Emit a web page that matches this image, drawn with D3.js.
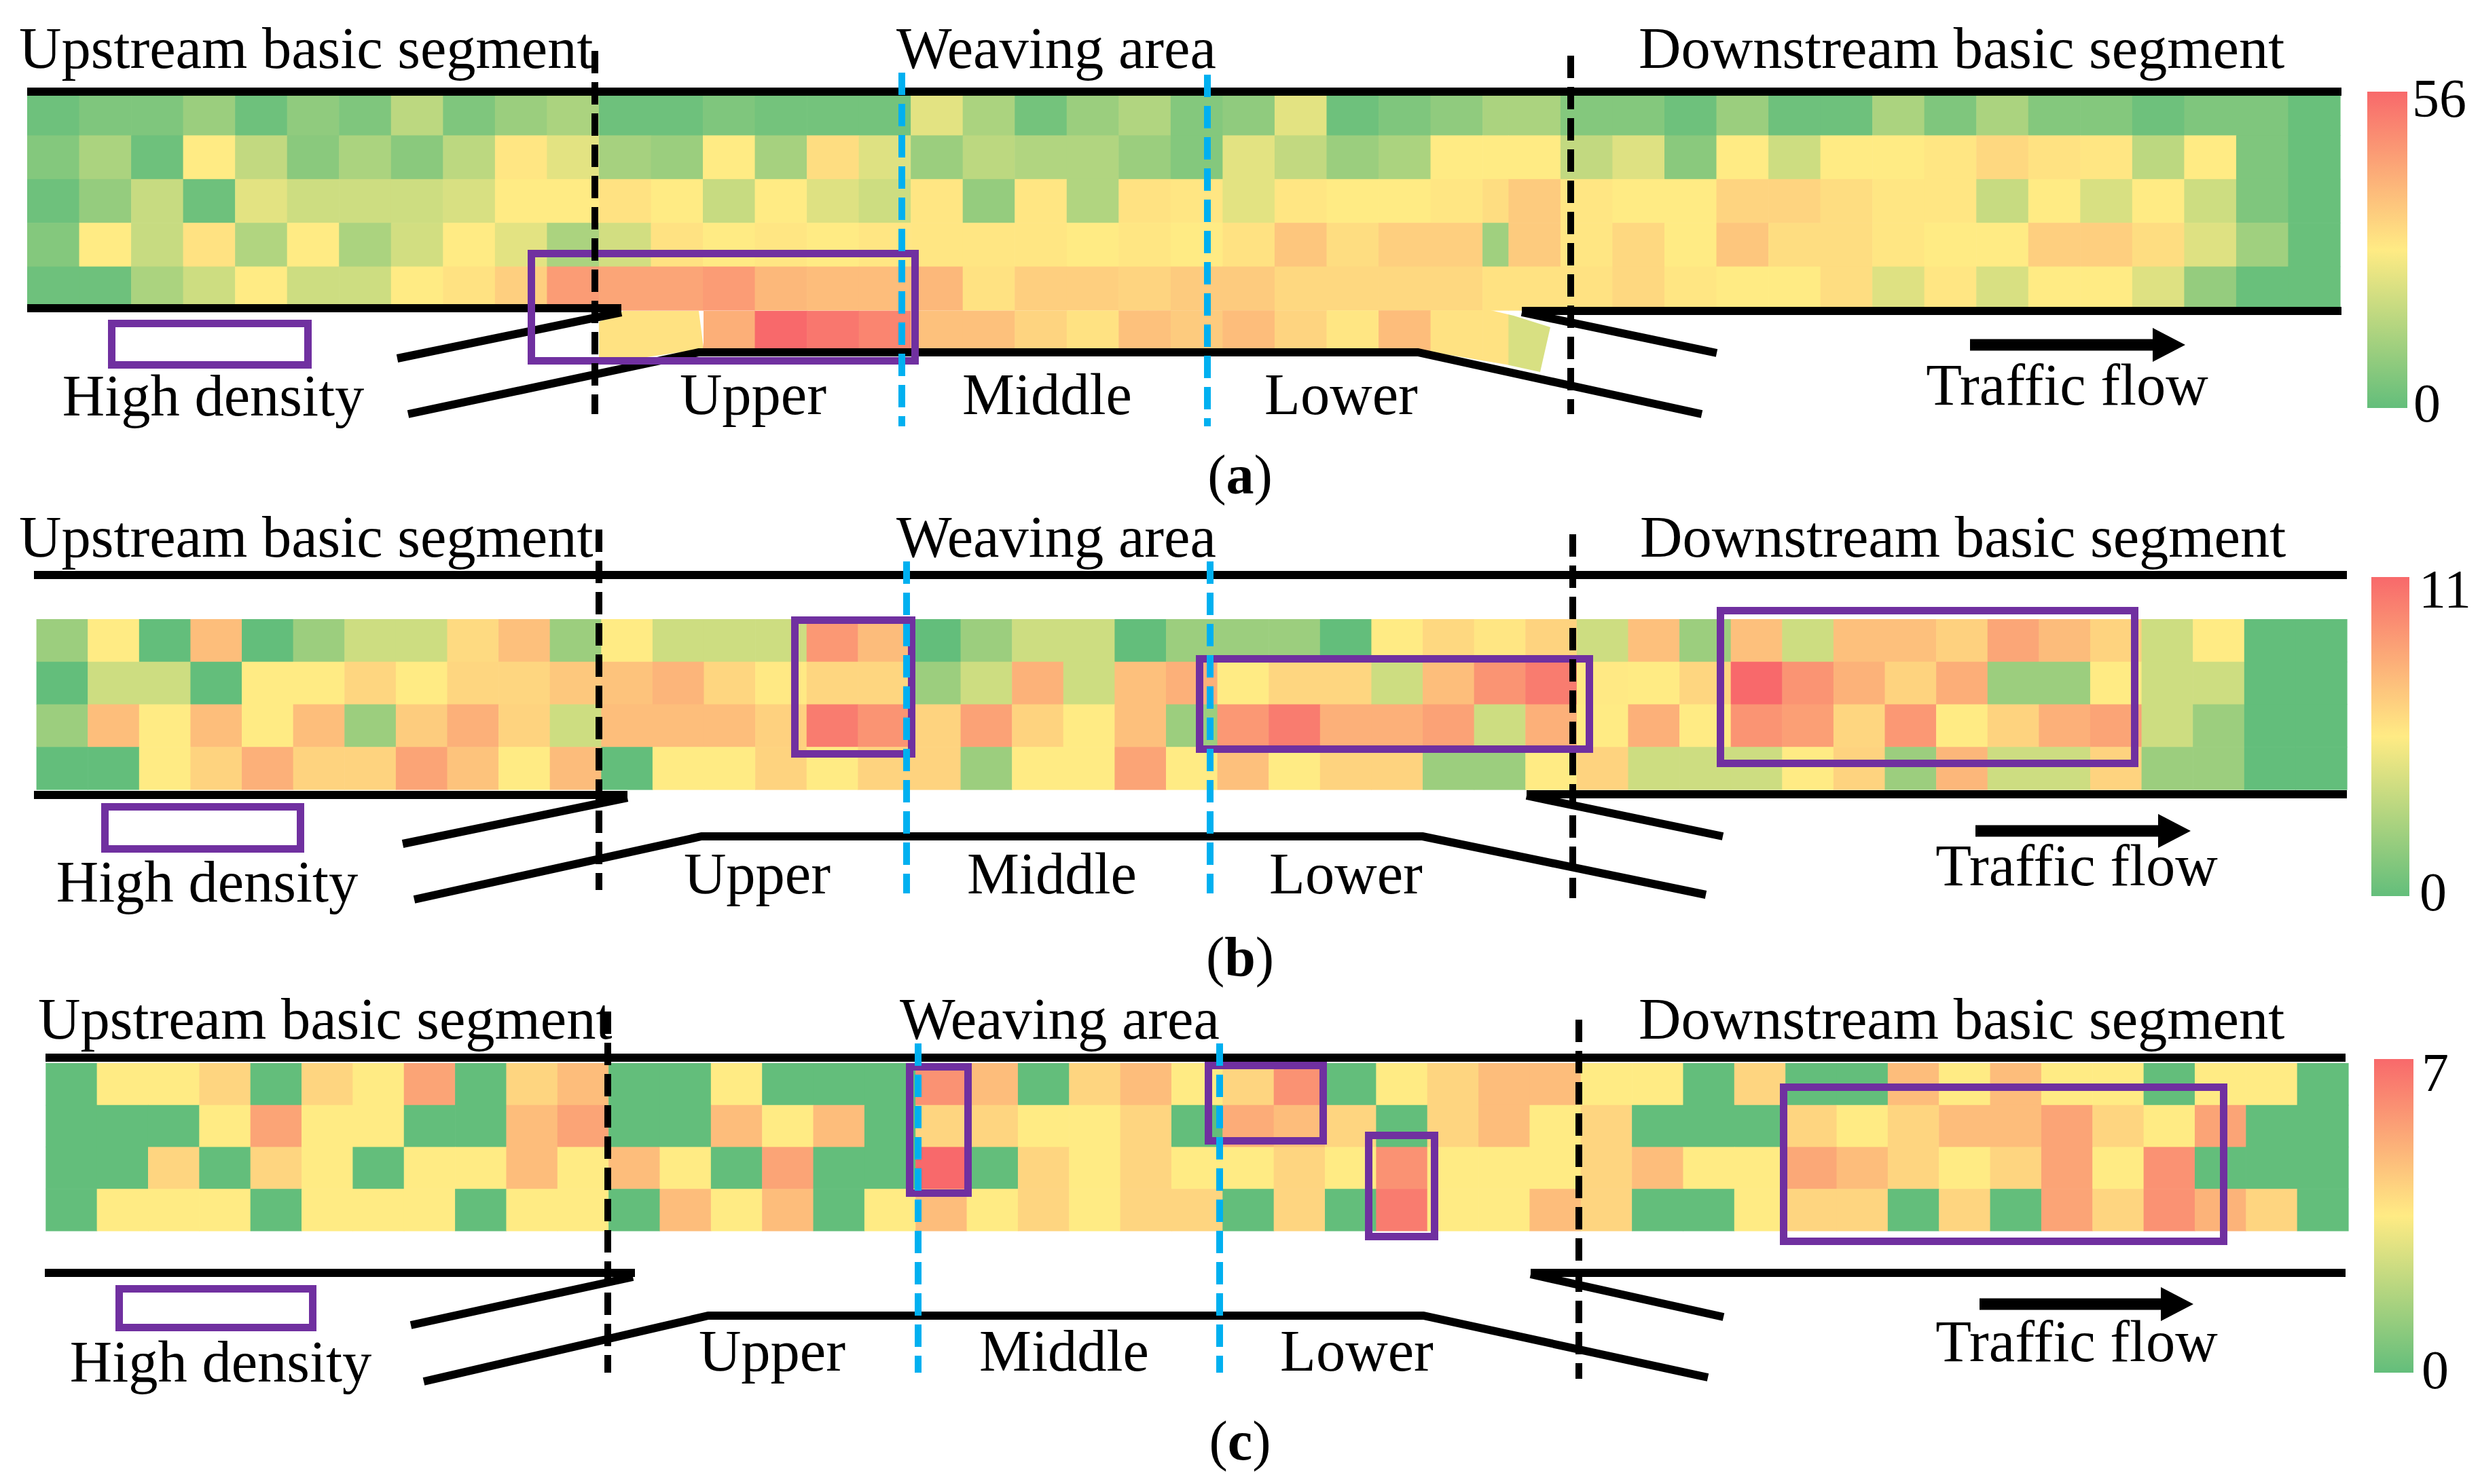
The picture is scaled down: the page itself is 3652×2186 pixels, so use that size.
<!DOCTYPE html>
<html><head><meta charset="utf-8">
<script src="https://cdn.jsdelivr.net/npm/d3@7"></script>
<style>html,body{margin:0;padding:0;background:#fff}svg{display:block}text{font-family:"Liberation Serif",serif;fill:#000}</style>
</head><body><svg id="chart" width="3652" height="2186"></svg>
<script>
// ---------- colour stops and category labels ----------
const colorStops = ['#63BE7B', '#FFEB84', '#F8696B'];
const segmentTitles = ['Upstream basic segment', 'Weaving area', 'Downstream basic segment'];
const zoneLabels = ['Upper', 'Middle', 'Lower'];
const legendLabel = 'High density';
const flowLabel = 'Traffic flow';

// ---------- panel (a): density values, scale 0-56, one list per lane ----------
const maxA = 56;
const a0 = [2,5,5,10,2,8,5,16,5,10,13,2,2,5,3,3,3,23,13,3,10,14,6,8,23,2,5,8,13,13,6,6,2,10,2,2,13,5,13,6,6,2,5,5,1];
const a1 = [6,13,2,28,17,7,13,7,16,29,23,12,10,28,12,31,22,10,16,14,14,10,6,23,17,10,13,28,28,28,17,22,7,28,19,28,28,29,32,30,29,16,28,5,1];
const a2 = [2,9,18,2,23,19,19,19,21,28,28,30,28,18,28,22,19,29,9,29,14,30,29,23,29,28,28,29,31,35,29,28,28,33,33,31,29,29,18,28,21,28,19,5,1];
const a3 = [6,28,18,30,14,28,13,20,28,23,13,20,30,28,29,28,29,29,29,29,28,29,28,30,36,31,34,34,11,35,29,32,28,36,31,31,29,28,28,34,34,31,22,11,1];
const a4 = [2,2,13,19,28,19,19,28,30,34,45,43,43,45,39,38,38,39,30,34,34,33,35,35,32,32,32,32,30,30,30,32,29,28,28,31,22,29,21,28,28,22,9,1,1];
const a5 = [null,null,null,null,null,null,null,null,null,null,null,30,30,41,56,53,50,37,37,33,30,37,35,38,33,29,38,30,30,21,null,null,null,null,null,null,null,null,null,null,null,null,null,null,null];

// ---------- panel (b): density values, scale 0-11 ----------
const maxB = 11;
const b0 = [2,5.5,0,7.4,0,2,3.75,3.75,6.2,7.3,2,5.5,3.75,3.75,3.75,9,7.5,0,2,3.75,3.75,0,2,2,2,0,5.5,6.3,5.7,6.5,3.75,7.3,2,7.3,3.75,7.3,7.3,6.6,8.4,7.5,6.5,3.75,5.5,0,0];
const b1 = [0,3.75,3.75,0,5.5,5.5,6.4,5.5,6.4,6.4,7,7.2,7.8,6.4,5.6,6.4,6.4,2,3.75,7.9,3.75,7.3,8,5.5,6.4,6.4,3.75,7.4,9.2,10.2,5.6,5.5,6.4,11,9.2,7.9,6.5,8.1,2,2,5.5,3.75,3.75,0,0];
const b2 = [2,7.4,5.5,7.4,5.5,7.4,2,6.8,8,6.5,3.75,7.4,7.4,7.4,6.6,10.2,9.2,6.5,8.6,6.5,5.5,7.3,2,9,10.2,8,8,8.6,3.75,8,5.5,8,5.5,9.2,8.7,6.4,9,5.5,6.5,8,8.5,3.75,2,0,0];
const b3 = [0,0,5.5,6.5,8,6.5,6.5,8.5,7.2,5.5,7.5,0,5.5,5.5,6.5,5.5,6.5,6.5,2,5.5,5.5,8.5,5.5,7.3,5.5,6.5,6.5,2,2,5.5,6.5,3.75,3.75,3.75,5.5,6.5,2,7.7,3.75,3.75,6.5,2,2,0,0];

// ---------- panel (c): density values, scale 0-7 ----------
const maxC = 7;
const c0 = [0,3.5,3.5,4.1,0,4.1,3.5,5.4,0,4.1,4.75,0,0,3.5,0,0,0,5.9,4.75,0,4.1,4.75,3.5,4.1,5.9,0,3.5,4.1,4.75,4.75,3.5,3.5,0,4.1,0,0,4.75,3.5,4.75,3.5,3.5,0,3.5,3.5,0];
const c1 = [0,0,0,3.5,5.4,3.5,3.5,0,0,4.75,5.4,0,0,4.75,3.5,4.75,0,4.1,4.1,3.5,3.5,4.1,0,5.2,4.75,4.1,0,4.1,4.75,3.5,4.1,0,0,0,4.1,3.5,4.1,4.75,4.75,5.4,4.1,3.5,5.4,0,0];
const c2 = [0,0,4.1,0,4.1,3.5,0,3.5,3.5,4.75,3.5,4.75,3.5,0,5.4,0,0,7,0,4.1,3.5,4.1,3.5,3.5,4.1,3.5,5.9,3.5,3.5,3.5,4.1,4.75,3.5,3.5,5.3,4.75,4.1,3.5,4.1,5.4,3.5,5.9,0,0,0];
const c3 = [0,3.5,3.5,3.5,0,3.5,3.5,3.5,0,3.5,3.5,0,4.75,3.5,4.75,0,3.5,4.75,3.5,4.1,3.5,4.1,4.1,0,4.1,0,6.5,3.5,3.5,4.75,4.1,0,0,3.5,4.1,4.1,0,4.1,0,5.4,4.1,5.9,5,4.1,0];

// ---------- panel layout (annotation geometry, not data) ----------
const panels = [
 { max:maxA, rows:[a0,a1,a2,a3,a4,a5], bold:'a', capX:1826, capY:727,
   xDom:[0,44.5], xRange:[40,3446], halfCol:28, yRange:[135,457], yRows:5,
   clip:[[880,475],[918,458],[1029,458],[1036,512],[1036,458],[2195,457],[2229,465],[2283,482],[2268,548],[2218,537],[2088,515],[1029,515],[876,537]],
   titles:[[28,100],[1320,100],[2413,100]], zones:[[1109,610],[1542,610],[1975,610]], legend:[314,612],
   flow:[3044,596], arrow:[2901,3218,3170,508],
   bar:[3486,3545,135,601], barHi:[3552,172], barLo:[3554,621],
   solid:[[[40,135],[3448,135]],[[40,454],[915,454]],[[2241,458],[3448,458]],[[585,528],[915,460]],[[601,610],[1029,519],[2088,519],[2506,610]],[[2241,460],[2528,520]]],
   black:[[876,75,610],[2313,82,610]], blue:[[1328,107,628],[1778,110,628]],
   boxes:[[777,368,1353,537]], key:[159,471,459,543] },
 { max:maxB, rows:[b0,b1,b2,b3], bold:'b', capX:1826, capY:1437,
   xDom:[0,45], xRange:[53.6,3456], yRange:[912,1163], yRows:4,
   titles:[[28,820],[1320,820],[2415,820]], zones:[[1115,1316],[1549,1316],[1982,1316]], legend:[305,1328],
   flow:[3058,1304], arrow:[2909,3226,3178,1224],
   bar:[3492,3548,850,1320], barHi:[3562,895], barLo:[3563,1341],
   solid:[[[50,847],[3456,847]],[[50,1171],[924,1171]],[[2248,1170],[3456,1170]],[[593,1243],[924,1175]],[[610,1325],[1033,1232],[2095,1232],[2512,1318]],[[2248,1172],[2537,1232]]],
   black:[[882,780,1311],[2316,787,1323]], blue:[[1335,827,1316],[1782,827,1316]],
   boxes:[[1165,908,1348,1116],[1761,965,2346,1109],[2528,894,3149,1130]], key:[149,1183,448,1256] },
 { max:maxC, rows:[c0,c1,c2,c3], bold:'c', capX:1826, capY:2150,
   xDom:[0,45], xRange:[67.3,3458], yRange:[1566,1813], yRows:4,
   titles:[[56,1530],[1325,1530],[2413,1530]], zones:[[1137,2019],[1567,2019],[1998,2019]], legend:[325,2035],
   flow:[3058,2005], arrow:[2915,3230,3182,1921],
   bar:[3496,3554,1560,2022], barHi:[3566,1607], barLo:[3566,2045],
   solid:[[[67,1558],[3454,1558]],[[66,1875],[935,1875]],[[2254,1875],[3454,1875]],[[605,1952],[932,1881]],[[624,2035],[1043,1938],[2096,1938],[2515,2029]],[[2254,1877],[2538,1940]]],
   black:[[895,1490,2022],[2325,1502,2031]], blue:[[1352,1537,2022],[1796,1537,2022]],
   boxes:[[1334,1566,1431,1763],[1774,1564,1954,1686],[2010,1667,2118,1827],[2621,1596,3280,1834]], key:[170,1893,466,1961] }
];

const svg = d3.select('#chart');
const defs = svg.append('defs');
const PURPLE = '#7030A0', BLUE = '#00B0F0';
const line = d3.line();

panels.forEach((p, pi) => {
  const color = d3.scaleLinear().domain([0, p.max / 2, p.max]).range(colorStops);
  const x = d3.scaleLinear().domain(p.xDom).range(p.xRange);
  const y = d3.scaleLinear().domain([0, p.yRows]).range(p.yRange);
  const edge = i => (p.halfCol !== undefined && i > p.halfCol) ? i - 0.5 : i;
  const g = svg.append('g');

  // heat cells
  if (p.clip) {
    defs.append('clipPath').attr('id', 'ramp' + pi).append('polygon')
      .attr('points', p.clip.map(d => d.join(',')).join(' '));
  }
  p.rows.forEach((row, r) => {
    const extra = r >= p.yRows;
    const rg = g.append('g');
    if (extra) rg.attr('clip-path', `url(#ramp${pi})`);
    rg.selectAll('rect').data(row.map((v, c) => ({v, c})).filter(d => d.v !== null)).join('rect')
      .attr('x', d => x(edge(d.c)))
      .attr('y', y(r))
      .attr('width', d => x(edge(d.c + 1)) - x(edge(d.c)) + 0.6)
      .attr('height', (y(r + 1) - y(r)) * (extra ? 2 : 1) + 0.6)
      .attr('fill', d => color(d.v));
  });

  // road edges
  p.solid.forEach(pts => g.append('path').attr('d', line(pts)).attr('fill', 'none')
    .attr('stroke', '#000').attr('stroke-width', 12).attr('stroke-linejoin', 'miter'));

  // high-density boxes and legend key
  p.boxes.concat([p.key]).forEach(b => g.append('rect')
    .attr('x', b[0] + 5.5).attr('y', b[1] + 5.5)
    .attr('width', b[2] - b[0] - 11).attr('height', b[3] - b[1] - 11)
    .attr('fill', 'none').attr('stroke', PURPLE).attr('stroke-width', 11));

  // dashed section limits
  const dashed = (list, col) => list.forEach(d => g.append('line')
    .attr('x1', d[0]).attr('x2', d[0]).attr('y1', d[1]).attr('y2', d[2])
    .attr('stroke', col).attr('stroke-width', 10).attr('stroke-dasharray', '33 13'));
  dashed(p.black, '#000');
  dashed(p.blue, BLUE);

  // arrow
  const [ax0, ax1, ahx, ay] = p.arrow;
  g.append('rect').attr('x', ax0).attr('y', ay - 8.5).attr('width', ahx - ax0 + 2).attr('height', 17).attr('fill', '#000');
  g.append('polygon').attr('points', `${ahx},${ay - 25} ${ax1},${ay} ${ahx},${ay + 25}`).attr('fill', '#000');

  // texts
  const T = (txt, px, py, anchor, size) => g.append('text').attr('x', px).attr('y', py)
    .attr('text-anchor', anchor || 'start').attr('font-size', size || 86.5).text(txt);
  segmentTitles.forEach((t, i) => T(t, p.titles[i][0], p.titles[i][1]));
  zoneLabels.forEach((t, i) => T(t, p.zones[i][0], p.zones[i][1], 'middle'));
  T(legendLabel, p.legend[0], p.legend[1], 'middle');
  T(flowLabel, p.flow[0], p.flow[1], 'middle');

  const cap = g.append('text').attr('x', p.capX).attr('y', p.capY).attr('text-anchor', 'middle').attr('font-size', 82);
  cap.append('tspan').text('(');
  cap.append('tspan').attr('font-weight', 'bold').text(p.bold);
  cap.append('tspan').text(')');

  // colour bar
  const [bx0, bx1, by0, by1] = p.bar;
  const gid = 'grad' + pi;
  const gr = defs.append('linearGradient').attr('id', gid).attr('x1', 0).attr('x2', 0).attr('y1', 1).attr('y2', 0);
  [0, p.max / 2, p.max].forEach(v => gr.append('stop').attr('offset', v / p.max).attr('stop-color', color(v)));
  g.append('rect').attr('x', bx0).attr('y', by0).attr('width', bx1 - bx0).attr('height', by1 - by0).attr('fill', `url(#${gid})`);
  T(String(p.max), p.barHi[0], p.barHi[1], 'start', 80);
  T('0', p.barLo[0], p.barLo[1], 'start', 80);
});
</script></body></html>
